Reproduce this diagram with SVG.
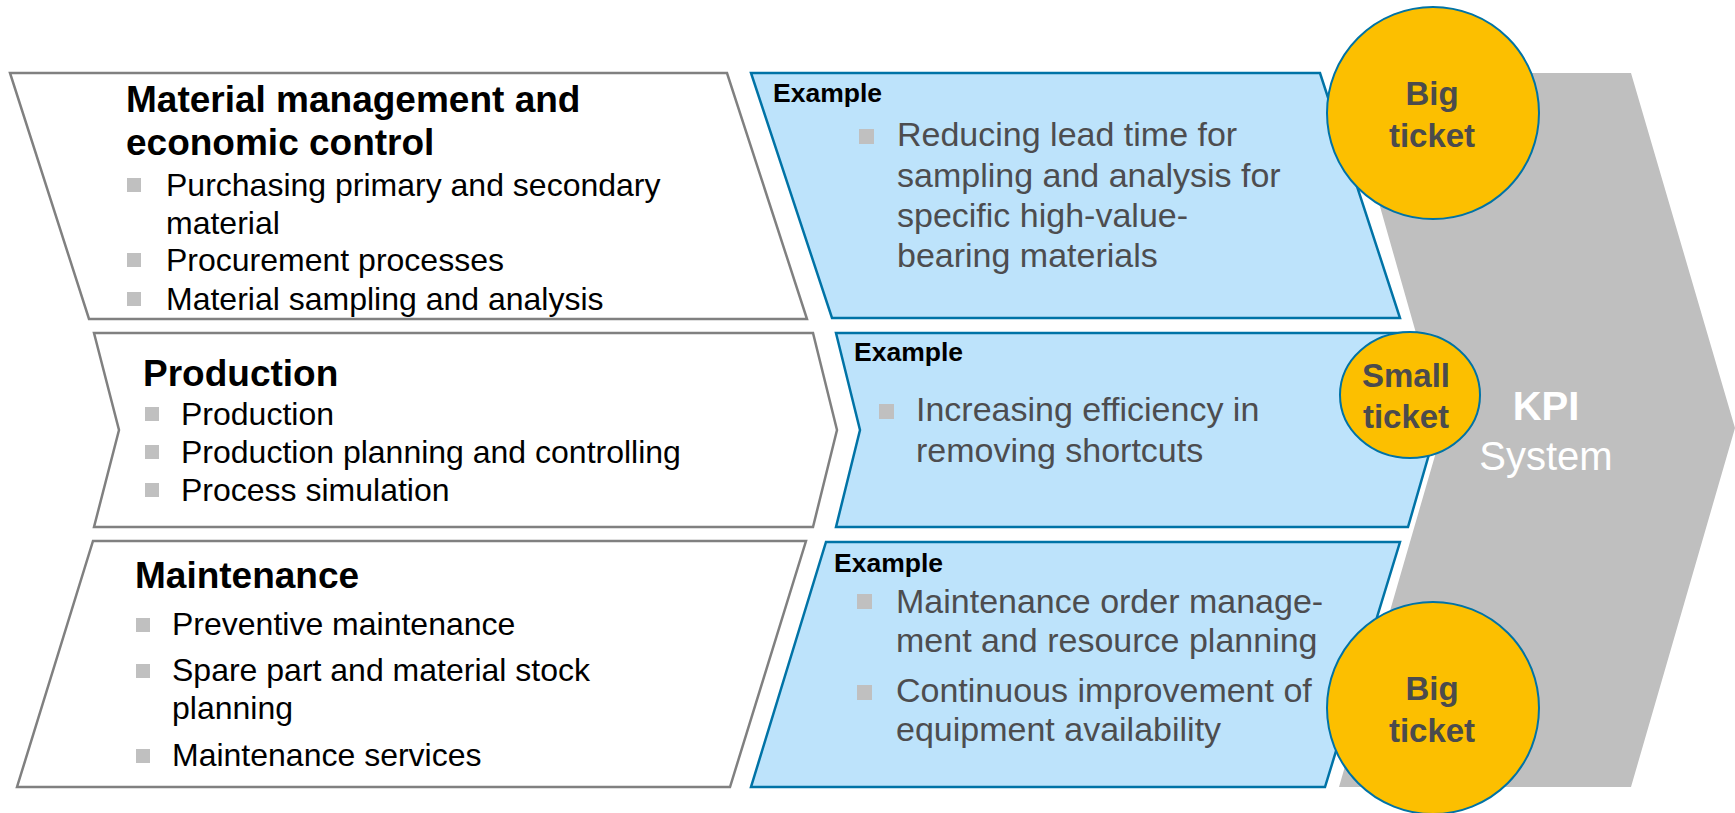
<svg xmlns="http://www.w3.org/2000/svg" width="1735" height="813" viewBox="0 0 1735 813">
<style>
  text { font-family: "Liberation Sans", Arial, sans-serif; }
  .panel { fill: #ffffff; stroke: #808080; stroke-width: 2.5; stroke-linejoin: miter; }
  .blue { fill: #BDE3FB; stroke: #0073A6; stroke-width: 2.5; }
  .kpi { fill: #BFBFBF; }
  .ticket { fill: #FCBF00; stroke: #0073A6; stroke-width: 2; }
  .head { font-size: 37px; font-weight: bold; fill: #000; }
  .item { font-size: 32px; fill: #000; }
  .ex { font-size: 26.5px; font-weight: bold; fill: #000; }
  .exitem { font-size: 34px; fill: #4D4D4F; }
  .bul { fill: #C0C0C0; }
  .tk { font-size: 33px; font-weight: bold; fill: #4B4B4D; text-anchor: middle; }
  .kpit { font-size: 40px; fill: #ffffff; text-anchor: middle; }
</style>
<rect width="1735" height="813" fill="#ffffff"/>

<g id="kpi-system">
  <polygon class="kpi" points="1342,73 1631,73 1735,428 1631,787 1339,787 1443,428"/>
  <text class="kpit" x="1546" y="420" font-weight="bold">KPI</text>
  <text class="kpit" x="1546" y="470">System</text>
</g>

<g id="material-management">
  <polygon class="panel" points="10,73 727,73 807,319 89,319"/>
  <text class="head" x="126" y="112">Material management and</text>
  <text class="head" x="126" y="155">economic control</text>
  <rect class="bul" x="127" y="178" width="14" height="14"/>
  <text class="item" x="166" y="196">Purchasing primary and secondary</text>
  <text class="item" x="166" y="234">material</text>
  <rect class="bul" x="127" y="253" width="14" height="14"/>
  <text class="item" x="166" y="271">Procurement processes</text>
  <rect class="bul" x="127" y="292" width="14" height="14"/>
  <text class="item" x="166" y="310">Material sampling and analysis</text>
</g>

<g id="production">
  <polygon class="panel" points="94,333 813,333 837,430 813,527 94,527 119,430"/>
  <text class="head" x="143" y="386">Production</text>
  <rect class="bul" x="145" y="407" width="14" height="14"/>
  <text class="item" x="181" y="425">Production</text>
  <rect class="bul" x="145" y="445" width="14" height="14"/>
  <text class="item" x="181" y="463">Production planning and controlling</text>
  <rect class="bul" x="145" y="483" width="14" height="14"/>
  <text class="item" x="181" y="501">Process simulation</text>
</g>

<g id="maintenance">
  <polygon class="panel" points="93,541 806,541 730,787 17,787"/>
  <text class="head" x="135" y="588">Maintenance</text>
  <rect class="bul" x="136" y="618" width="14" height="14"/>
  <text class="item" x="172" y="635">Preventive maintenance</text>
  <rect class="bul" x="136" y="664" width="14" height="14"/>
  <text class="item" x="172" y="681">Spare part and material stock</text>
  <text class="item" x="172" y="719">planning</text>
  <rect class="bul" x="136" y="749" width="14" height="14"/>
  <text class="item" x="172" y="766">Maintenance services</text>
</g>

<g id="example-1">
  <polygon class="blue" points="751,73 1320,73 1400,318 832,318"/>
  <text class="ex" x="773" y="102">Example</text>
  <rect class="bul" x="859" y="129" width="15" height="15"/>
  <text class="exitem" x="897" y="146">Reducing lead time for</text>
  <text class="exitem" x="897" y="187">sampling and analysis for</text>
  <text class="exitem" x="897" y="227">specific high-value-</text>
  <text class="exitem" x="897" y="267">bearing materials</text>
</g>

<g id="example-2">
  <polygon class="blue" points="836,333 1408,333 1436,430 1408,527 836,527 860,430"/>
  <text class="ex" x="854" y="361">Example</text>
  <rect class="bul" x="879" y="404" width="15" height="15"/>
  <text class="exitem" x="916" y="421">Increasing efficiency in</text>
  <text class="exitem" x="916" y="462">removing shortcuts</text>
</g>

<g id="example-3">
  <polygon class="blue" points="826,542 1400,542 1325,787 751,787"/>
  <text class="ex" x="834" y="572">Example</text>
  <rect class="bul" x="857" y="594" width="15" height="15"/>
  <text class="exitem" x="896" y="613">Maintenance order manage-</text>
  <text class="exitem" x="896" y="652">ment and resource planning</text>
  <rect class="bul" x="857" y="685" width="15" height="15"/>
  <text class="exitem" x="896" y="702">Continuous improvement of</text>
  <text class="exitem" x="896" y="741">equipment availability</text>
</g>

<g id="ticket-1">
  <circle class="ticket" cx="1433" cy="113" r="106"/>
  <text class="tk" x="1432" y="105">Big</text>
  <text class="tk" x="1432" y="147">ticket</text>
</g>

<g id="ticket-2">
  <ellipse class="ticket" cx="1410" cy="395" rx="70" ry="63"/>
  <text class="tk" x="1406" y="387">Small</text>
  <text class="tk" x="1406" y="428">ticket</text>
</g>

<g id="ticket-3">
  <circle class="ticket" cx="1433" cy="708" r="106"/>
  <text class="tk" x="1432" y="700">Big</text>
  <text class="tk" x="1432" y="742">ticket</text>
</g>

<g id="connectors"></g>
</svg>
